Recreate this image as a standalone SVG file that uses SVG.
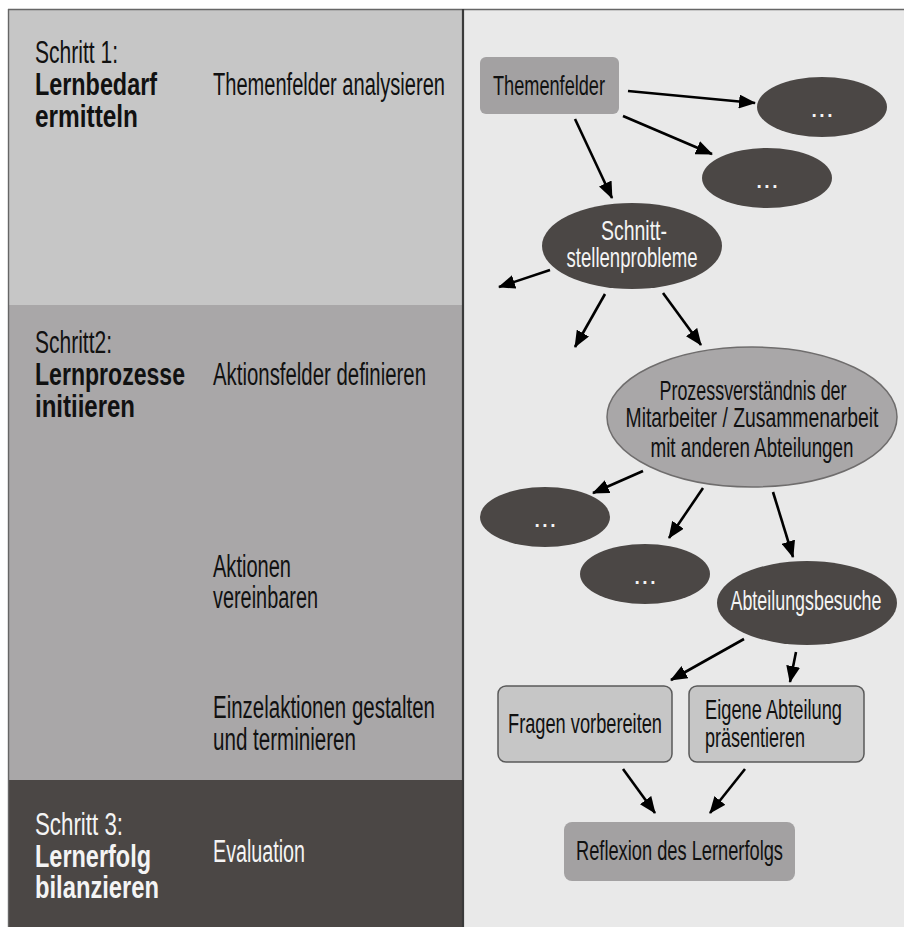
<svg xmlns="http://www.w3.org/2000/svg" width="904" height="927" viewBox="0 0 904 927">
<style>
.t{font-family:"Liberation Sans",Arial,sans-serif;font-size:31px;fill:#111}
.b{font-weight:bold}
.n{font-family:"Liberation Sans",Arial,sans-serif;font-size:28px;fill:#111}
.nc{text-anchor:middle}
.w{fill:#f4f4f4}
.dark{fill:#4b4745}
.conn line{stroke:#000;stroke-width:2.6;marker-end:url(#ah)}
</style>
<defs>
<marker id="ah" markerUnits="userSpaceOnUse" markerWidth="17" markerHeight="14" refX="16" refY="7" orient="auto">
<path d="M0,0 L17,7 L0,14 z" fill="#000"/>
</marker>
</defs>
<rect x="0" y="0" width="904" height="927" fill="#ffffff"/>
<g id="panel-left">
<rect x="8" y="9" width="455" height="296" fill="#c6c6c6"/>
<rect x="8" y="305" width="455" height="475" fill="#a9a7a8"/>
<rect x="8" y="780" width="455" height="147" fill="#4b4745"/>
</g>
<rect id="panel-right" x="463" y="9" width="441" height="918" fill="#e9e9e9"/>
<line x1="8" y1="9.5" x2="904" y2="9.5" stroke="#666" stroke-width="1.6"/>
<line x1="8.5" y1="9" x2="8.5" y2="927" stroke="#666" stroke-width="1.4"/>
<line x1="463" y1="9" x2="463" y2="927" stroke="#3a3a3a" stroke-width="2.2"/>

<g id="step1">
<text class="t" x="35" y="63" textLength="83" lengthAdjust="spacingAndGlyphs">Schritt 1:</text>
<text class="t b" x="35" y="95" textLength="122" lengthAdjust="spacingAndGlyphs">Lernbedarf</text>
<text class="t b" x="35" y="127" textLength="103" lengthAdjust="spacingAndGlyphs">ermitteln</text>
<text class="t" x="213" y="95" textLength="232" lengthAdjust="spacingAndGlyphs">Themenfelder analysieren</text>
</g>
<g id="step2">
<text class="t" x="35" y="353" textLength="77" lengthAdjust="spacingAndGlyphs">Schritt2:</text>
<text class="t b" x="35" y="385" textLength="150" lengthAdjust="spacingAndGlyphs">Lernprozesse</text>
<text class="t b" x="35" y="417" textLength="100" lengthAdjust="spacingAndGlyphs">initiieren</text>
<text class="t" x="213" y="385" textLength="213" lengthAdjust="spacingAndGlyphs">Aktionsfelder definieren</text>
<text class="t" x="213" y="577" textLength="78" lengthAdjust="spacingAndGlyphs">Aktionen</text>
<text class="t" x="213" y="608" textLength="105" lengthAdjust="spacingAndGlyphs">vereinbaren</text>
<text class="t" x="213" y="718" textLength="222" lengthAdjust="spacingAndGlyphs">Einzelaktionen gestalten</text>
<text class="t" x="213" y="750" textLength="143" lengthAdjust="spacingAndGlyphs">und terminieren</text>
</g>
<g id="step3">
<text class="t w" x="35" y="835" textLength="88" lengthAdjust="spacingAndGlyphs">Schritt 3:</text>
<text class="t b w" x="35" y="867" textLength="116" lengthAdjust="spacingAndGlyphs">Lernerfolg</text>
<text class="t b w" x="35" y="898" textLength="124" lengthAdjust="spacingAndGlyphs">bilanzieren</text>
<text class="t w" x="213" y="862" textLength="92" lengthAdjust="spacingAndGlyphs">Evaluation</text>
</g>

<g class="conn" id="connectors">
<line x1="628" y1="91" x2="755" y2="103"/>
<line x1="623" y1="116" x2="712" y2="154"/>
<line x1="575" y1="119" x2="612" y2="198"/>
<line x1="550" y1="270" x2="499" y2="287"/>
<line x1="605" y1="294" x2="575" y2="347"/>
<line x1="663" y1="293" x2="701" y2="345"/>
<line x1="643" y1="471" x2="593" y2="493"/>
<line x1="703" y1="488" x2="669" y2="538"/>
<line x1="773" y1="492" x2="793" y2="557"/>
<line x1="744" y1="639" x2="671" y2="680"/>
<line x1="796" y1="652" x2="790" y2="682"/>
<line x1="623" y1="769" x2="655" y2="813"/>
<line x1="745" y1="769" x2="710" y2="813"/>
</g>

<g id="themenfelder">
<rect x="480" y="57" width="139" height="57" rx="6" fill="#a3a1a2"/>
<text class="n nc" x="549" y="95" textLength="112" lengthAdjust="spacingAndGlyphs">Themenfelder</text>
</g>
<g id="dots1">
<ellipse class="dark" cx="822" cy="107" rx="65" ry="30"/>
<text class="n nc w" x="822" y="117" font-size="18">...</text>
</g>
<g id="dots2">
<ellipse class="dark" cx="767" cy="178" rx="65" ry="30"/>
<text class="n nc w" x="767" y="188" font-size="18">...</text>
</g>
<g id="schnittstellen">
<ellipse class="dark" cx="632" cy="246" rx="90" ry="43"/>
<text class="n nc w" x="634" y="240" textLength="66" lengthAdjust="spacingAndGlyphs">Schnitt-</text>
<text class="n nc w" x="632" y="267" textLength="131" lengthAdjust="spacingAndGlyphs">stellenprobleme</text>
</g>
<g id="prozess">
<ellipse cx="752" cy="417" rx="145" ry="70" fill="#a9a7a8" stroke="#6f6d6d" stroke-width="1.5"/>
<text class="n nc" x="753" y="400" font-size="27" textLength="187" lengthAdjust="spacingAndGlyphs">Prozessverständnis der</text>
<text class="n nc" x="752" y="427" font-size="27" textLength="253" lengthAdjust="spacingAndGlyphs">Mitarbeiter / Zusammenarbeit</text>
<text class="n nc" x="752" y="457" font-size="27" textLength="203" lengthAdjust="spacingAndGlyphs">mit anderen Abteilungen</text>
</g>
<g id="dots3">
<ellipse class="dark" cx="545" cy="517" rx="65" ry="30"/>
<text class="n nc w" x="545" y="527" font-size="18">...</text>
</g>
<g id="dots4">
<ellipse class="dark" cx="645" cy="574" rx="65" ry="30"/>
<text class="n nc w" x="645" y="584" font-size="18">...</text>
</g>
<g id="abteilungsbesuche">
<ellipse class="dark" cx="807" cy="603" rx="90" ry="42"/>
<text class="n nc w" x="806" y="610" textLength="151" lengthAdjust="spacingAndGlyphs">Abteilungsbesuche</text>
</g>
<g id="fragen">
<rect x="498" y="686" width="174" height="76" rx="8" fill="#c6c6c6" stroke="#5a5a5a" stroke-width="1.5"/>
<text class="n" x="508" y="733" textLength="154" lengthAdjust="spacingAndGlyphs">Fragen vorbereiten</text>
</g>
<g id="eigene">
<rect x="689" y="686" width="175" height="76" rx="8" fill="#c6c6c6" stroke="#5a5a5a" stroke-width="1.5"/>
<text class="n" x="705" y="719" textLength="137" lengthAdjust="spacingAndGlyphs">Eigene Abteilung</text>
<text class="n" x="705" y="747" textLength="100" lengthAdjust="spacingAndGlyphs">präsentieren</text>
</g>
<g id="reflexion">
<rect x="564" y="822" width="231" height="59" rx="8" fill="#a3a1a2"/>
<text class="n" x="576" y="860" textLength="207" lengthAdjust="spacingAndGlyphs">Reflexion des Lernerfolgs</text>
</g>
</svg>
